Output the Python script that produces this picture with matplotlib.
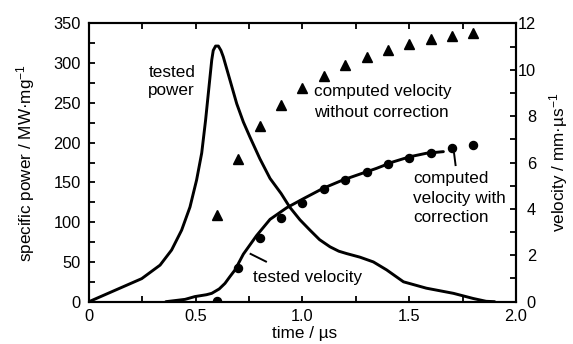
import matplotlib
matplotlib.use("Agg")
import matplotlib.pyplot as plt
from matplotlib.ticker import MultipleLocator

plt.rcParams['font.family'] = ['Liberation Sans', 'DejaVu Sans']
plt.rcParams['mathtext.fontset'] = 'custom'
plt.rcParams['mathtext.rm'] = 'Liberation Sans'
plt.rcParams['mathtext.it'] = 'Liberation Sans'
plt.rcParams['mathtext.bf'] = 'Liberation Sans'

# tested power curve
t_power = [0, 0.247, 0.333, 0.387, 0.434, 0.473, 0.504, 0.528, 0.546, 0.562, 0.575,
           0.582, 0.593, 0.606, 0.618, 0.629, 0.645, 0.66, 0.692, 0.723, 0.754, 0.80,
           0.848, 0.9, 0.94, 0.988, 1.035, 1.08, 1.129, 1.17, 1.207, 1.269, 1.332,
           1.394, 1.473, 1.58, 1.707, 1.8, 1.86, 1.9]
power = [0, 29, 46, 65, 90, 119, 153, 187, 228, 270, 304, 316, 321.5, 321.5, 316, 308,
         293, 279, 249, 226, 207, 180, 155, 136, 119, 103, 90, 78, 69, 63.5, 60.5, 56,
         50, 40, 25, 17, 10.5, 4, 0.5, 0]

# tested velocity curve
t_vel = [0.36, 0.45, 0.496, 0.55, 0.575, 0.61, 0.637, 0.66, 0.684, 0.723, 0.785, 0.848,
         0.926, 1.004, 1.097, 1.19, 1.3, 1.347, 1.425, 1.503, 1.58, 1.66]
vel = [0, 0.1, 0.22, 0.3, 0.36, 0.55, 0.79, 1.08, 1.37, 2.05, 2.85, 3.55, 4.05, 4.44,
       4.89, 5.25, 5.6, 5.75, 6.03, 6.25, 6.4, 6.47]

# computed velocity without correction (triangles)
t_tri = [0.6, 0.7, 0.8, 0.9, 1.0, 1.1, 1.2, 1.3, 1.4, 1.5, 1.6, 1.7, 1.8]
v_tri = [3.74, 6.14, 7.57, 8.5, 9.2, 9.73, 10.2, 10.53, 10.85, 11.09, 11.31, 11.47, 11.57]

# computed velocity with correction (circles)
t_dot = [0.6, 0.7, 0.8, 0.9, 1.0, 1.1, 1.2, 1.3, 1.4, 1.5, 1.6, 1.7, 1.8]
v_dot = [0.04, 1.44, 2.73, 3.59, 4.27, 4.84, 5.25, 5.6, 5.95, 6.18, 6.4, 6.61, 6.75]

x_ticks = [0, 0.5, 1.0, 1.5, 2.0]
x_labels = ["0", "0.5", "1.0", "1.5", "2.0"]
y_left_ticks = [0, 50, 100, 150, 200, 250, 300, 350]
y_right_ticks = [0, 2, 4, 6, 8, 10, 12]

fs_tick = 11.8
fs = 12.3
fig = plt.figure(figsize=(5.73, 3.44), dpi=100)
ax = fig.add_axes([0.1553, 0.123, 0.9005 - 0.1553, 0.932 - 0.123])
ax2 = ax.twinx()

ax.plot(t_power, power, color='black', lw=2.1, solid_capstyle='round',
        solid_joinstyle='round', zorder=3)
ax2.plot(t_vel, vel, color='black', lw=2.1, solid_capstyle='round',
         solid_joinstyle='round', zorder=3)
ax2.plot(t_tri, v_tri, linestyle='none', marker='^', ms=7, color='black', zorder=4)
ax2.plot(t_dot, v_dot, linestyle='none', marker='o', ms=5.8, color='black', zorder=4)

ax.set_xlim(0, 2.0)
ax.set_ylim(0, 350)
ax2.set_ylim(0, 12)

ax.set_xticks(x_ticks)
ax.set_xticklabels(x_labels)
ax.set_yticks(y_left_ticks)
ax2.set_yticks(y_right_ticks)
ax.xaxis.set_minor_locator(MultipleLocator(0.25))
ax.yaxis.set_minor_locator(MultipleLocator(25))
ax2.yaxis.set_minor_locator(MultipleLocator(1))

for a in (ax, ax2):
    for s in a.spines.values():
        s.set_linewidth(1.5)
ax.tick_params(axis='x', which='both', direction='in', top=True, bottom=True,
               labelsize=fs_tick, pad=5, length=4, width=1.3)
ax.tick_params(axis='y', which='both', direction='in', left=True, right=False,
               labelsize=fs_tick, length=4, width=1.3, pad=6)
ax2.tick_params(axis='y', which='both', direction='in', left=False, right=True,
                labelsize=fs_tick, length=4, width=1.3, pad=14.4)
for lab in ax2.get_yticklabels():
    lab.set_horizontalalignment('right')

ax.set_xlabel("time / µs", fontsize=fs)
ax.xaxis.set_label_coords(0.505, -0.087)
ax.set_ylabel("specific power / MW·mg$^{-1}$", fontsize=fs)
ax.yaxis.set_label_coords(-0.1225, 0.5)
ax2.set_ylabel("velocity / mm·µs$^{-1}$", fontsize=fs)
ax2.yaxis.set_label_coords(1.0726, 0.5)

# annotations (one text per line, positioned by baseline)
ax.text(0.278, 282.9, "tested", fontsize=fs, va='baseline', ha='left')
ax.text(0.278, 259.9, "power", fontsize=fs, va='baseline', ha='left')
ax2.text(1.054, 8.87, "computed velocity", fontsize=fs, va='baseline', ha='left')
ax2.text(1.054, 7.98, "without correction", fontsize=fs, va='baseline', ha='left')
ax2.text(1.519, 5.10, "computed", fontsize=fs, va='baseline', ha='left')
ax2.text(1.519, 4.24, "velocity with", fontsize=fs, va='baseline', ha='left')
ax2.text(1.519, 3.42, "correction", fontsize=fs, va='baseline', ha='left')
ax2.plot([1.71, 1.717], [6.4, 5.89], color='black', lw=1.4)
ax2.text(0.77, 0.862, "tested velocity", fontsize=fs, va='baseline', ha='left')
ax2.plot([0.757, 0.829], [2.06, 1.73], color='black', lw=1.4)

fig.savefig("out.png", dpi=100)
